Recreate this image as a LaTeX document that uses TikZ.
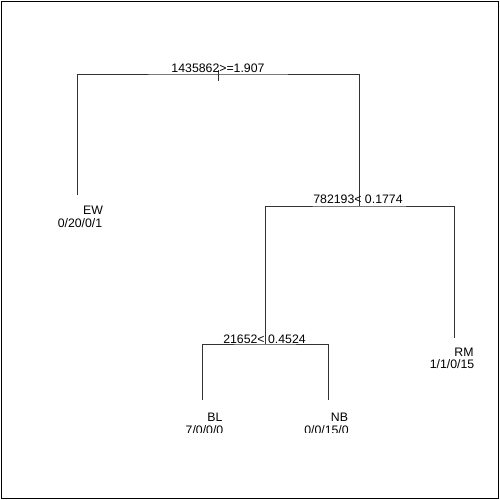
\documentclass[tikz,border=0pt]{standalone}
\usepackage{fontspec}
\setmainfont{Liberation Sans}
\usepackage{tikz}

\begin{document}
\begin{tikzpicture}[
    x=1pt,y=-1pt,
    branch/.style={draw=black!80,line width=0.8pt},
    lbl/.style={anchor=base,inner sep=0pt,font=\fontsize{12.3}{14}\selectfont}]
  \useasboundingbox (0,0) rectangle (500,500);
  \draw[line width=1.2pt] (1.7,1.7) rectangle (498.5,498.2);

  % split points and leaf ends
  \coordinate (root) at (218,74);
  \coordinate (n2)   at (359,206);
  \coordinate (n3)   at (265,344);
  \coordinate (ew)   at (77,195);
  \coordinate (rm)   at (454,338);
  \coordinate (bl)   at (202,400);
  \coordinate (nb)   at (328,400);

  \draw[branch] (ew) |- (root) -| (n2);
  \draw[branch] ([yshift=4pt]root) -- ([yshift=-7pt]root);
  \draw[branch] (n3) |- (n2) -| (rm);
  \draw[branch] (bl) |- (n3) -| (nb);

  \node[lbl] (s1) at (218,73)   {1435862>=1.907};
  \node[lbl] (s2) at (358,203)  {782193< 0.1774};
  \node[lbl] (s3) at (264.5,343) {21652< 0.4524};

  \node[lbl] (ewname) at (93,214) {EW};
  \node[lbl] (ewcnt)  at (80,227) {0/20/0/1};
  \node[lbl] (rmname) at (464,356) {RM};
  \node[lbl] (rmcnt)  at (452,368) {1/1/0/15};

  \begin{scope}
    \clip (0,0) rectangle (500,432);
    \node[lbl] (blname) at (215,421)   {BL};
    \node[lbl] (blcnt)  at (204.5,434) {7/0/0/0};
    \node[lbl] (nbname) at (339.5,421) {NB};
    \node[lbl] (nbcnt)  at (326.5,434) {0/0/15/0};
  \end{scope}
\end{tikzpicture}
\end{document}
